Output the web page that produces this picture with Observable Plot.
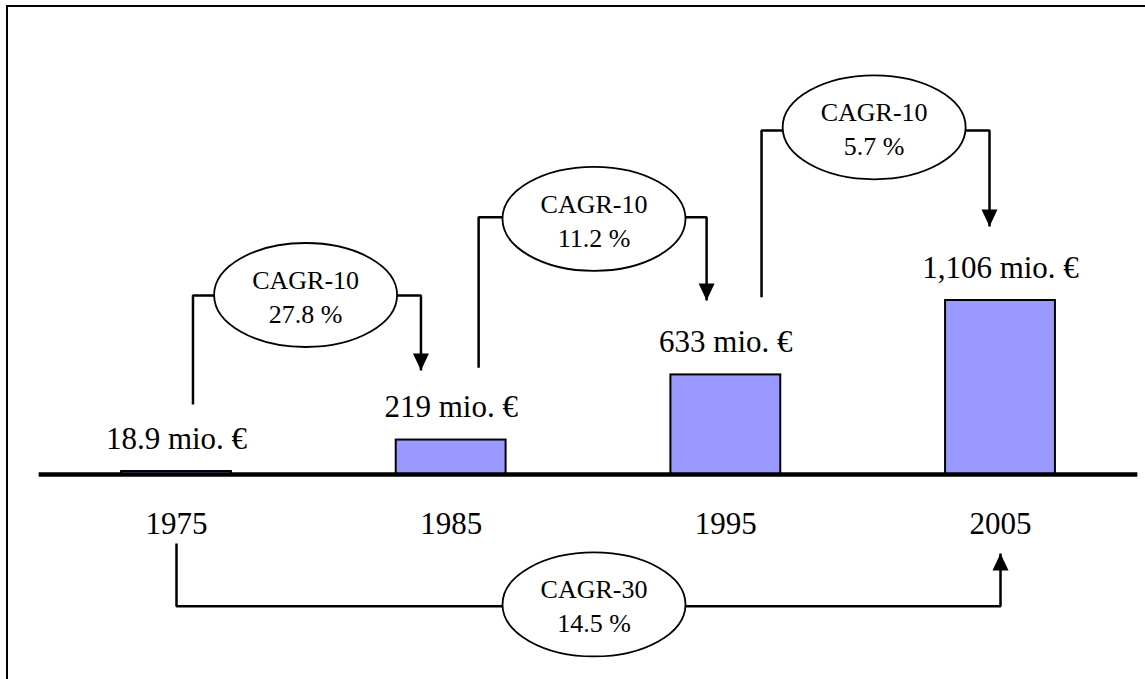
<!DOCTYPE html>
<html>
<head>
<meta charset="utf-8">
<script src="https://cdn.jsdelivr.net/npm/d3@7"></script>
<script src="https://cdn.jsdelivr.net/npm/@observablehq/plot@0.6"></script>
<style>
  html, body { margin: 0; padding: 0; background: #fff; overflow: hidden; }
  #wrap { position: relative; width: 1145px; height: 679px; overflow: hidden; }
  #frame { position: absolute; left: 6px; top: 5px; width: 1400px; height: 900px;
           border-left: 2px solid #000; border-top: 2px solid #000; box-sizing: border-box; pointer-events: none; }
  #chart svg { display: block; }
</style>
</head>
<body>
<div id="wrap"><div id="chart"></div><div id="frame"></div></div>
<script>
// ---- Data ----
const years = [1975, 1985, 1995, 2005];
const values = [18.9, 219, 633, 1106];
const valueLabels = ["18.9 mio. €", "219 mio. €", "633 mio. €", "1,106 mio. €"];

const cagrTitles = ["CAGR-10", "CAGR-10", "CAGR-10", "CAGR-30"];
const cagrRates = ["27.8 %", "11.2 %", "5.7 %", "14.5 %"];

// Annotation anchors (in data units: years on x, mio. € on y)
const cagrLegFromX = [1975.6, 1986.0, 1996.3, 1975.0];
const cagrLegFromY = [445, 678, 1127, -439];
const cagrLevel    = [1138, 1635, 2187, -837];
const cagrCenterX  = [1979.7, 1990.2, 2000.4, 1990.2];
const cagrCenterY  = [1141, 1625, 2207, -826];
const cagrLegToX   = [1983.9, 1994.3, 2004.6, 2005.0];
const cagrTipY     = [661, 1106, 1576, -502];

// ---- Tables built from the arrays ----
const bars = years.map((year, i) => ({year, value: values[i], label: valueLabels[i]}));
const ann = cagrTitles.map((title, i) => ({
  id: i, title, rate: cagrRates[i],
  fx: cagrLegFromX[i], fy: cagrLegFromY[i], level: cagrLevel[i],
  cx: cagrCenterX[i], cy: cagrCenterY[i], tx: cagrLegToX[i], ty: cagrTipY[i]
}));
const connectorPts = ann.flatMap(a => [
  {id: a.id, x: a.fx, y: a.fy},
  {id: a.id, x: a.fx, y: a.level},
  {id: a.id, x: a.tx, y: a.level},
  {id: a.id, x: a.tx, y: a.ty}
]);

// ---- Custom symbols ----
const ellipseSymbol = {
  draw(ctx) {
    const rx = 91.5, ry = 52, k = 0.5523;
    ctx.moveTo(rx, 0);
    ctx.bezierCurveTo(rx, ry * k, rx * k, ry, 0, ry);
    ctx.bezierCurveTo(-rx * k, ry, -rx, ry * k, -rx, 0);
    ctx.bezierCurveTo(-rx, -ry * k, -rx * k, -ry, 0, -ry);
    ctx.bezierCurveTo(rx * k, -ry, rx, -ry * k, rx, 0);
    ctx.closePath();
  }
};
const arrowDown = {draw(ctx) { ctx.moveTo(0, 0); ctx.lineTo(-8, -17); ctx.lineTo(8, -17); ctx.closePath(); }};
const arrowUp = {draw(ctx) { ctx.moveTo(0, 0); ctx.lineTo(-8, 17); ctx.lineTo(8, 17); ctx.closePath(); }};

const chart = Plot.plot({
  width: 1145,
  height: 679,
  marginTop: 0, marginRight: 0, marginLeft: 0, marginBottom: 205,
  style: {fontFamily: "'Liberation Serif', 'Times New Roman', serif", background: "transparent", color: "#000", overflow: "visible"},
  x: {domain: [1975, 2005], range: [176, 1000]},
  y: {domain: [0, d3.max(values)], range: [474, 300], axis: null},
  marks: [
    Plot.rectY(bars, {x1: d => d.year - 2, x2: d => d.year + 2, y1: 0, y2: "value", fill: "#9999ff", stroke: "#000", strokeWidth: 2}),
    Plot.ruleY([0], {x1: () => years[0] - 5, x2: () => years[years.length - 1] + 5, stroke: "#000", strokeWidth: 4.5}),
    Plot.axisX({ticks: years, tickFormat: d => String(d), tickSize: 0, tickPadding: 37, fontSize: 31, label: null, fill: "#000"}),
    Plot.text(bars, {x: "year", y: "value", text: "label", lineAnchor: "bottom", dy: -23, fontSize: 31, fill: "#000"}),
    Plot.line(connectorPts, {x: "x", y: "y", z: "id", stroke: "#000", strokeWidth: 2.5, strokeLinejoin: "miter", strokeLinecap: "butt"}),
    Plot.dot(ann.filter(a => a.ty < a.level), {x: "tx", y: "ty", symbol: arrowDown, fill: "#000"}),
    Plot.dot(ann.filter(a => a.ty > a.level), {x: "tx", y: "ty", symbol: arrowUp, fill: "#000"}),
    Plot.dot(ann, {x: "cx", y: "cy", symbol: ellipseSymbol, fill: "#fff", stroke: "#000", strokeWidth: 1.8}),
    Plot.text(ann, {x: "cx", y: "cy", text: d => d.title + "\n" + d.rate, fontSize: 26, lineHeight: 1.3, fill: "#000"})
  ]
});
document.getElementById("chart").appendChild(chart);
</script>
</body>
</html>
